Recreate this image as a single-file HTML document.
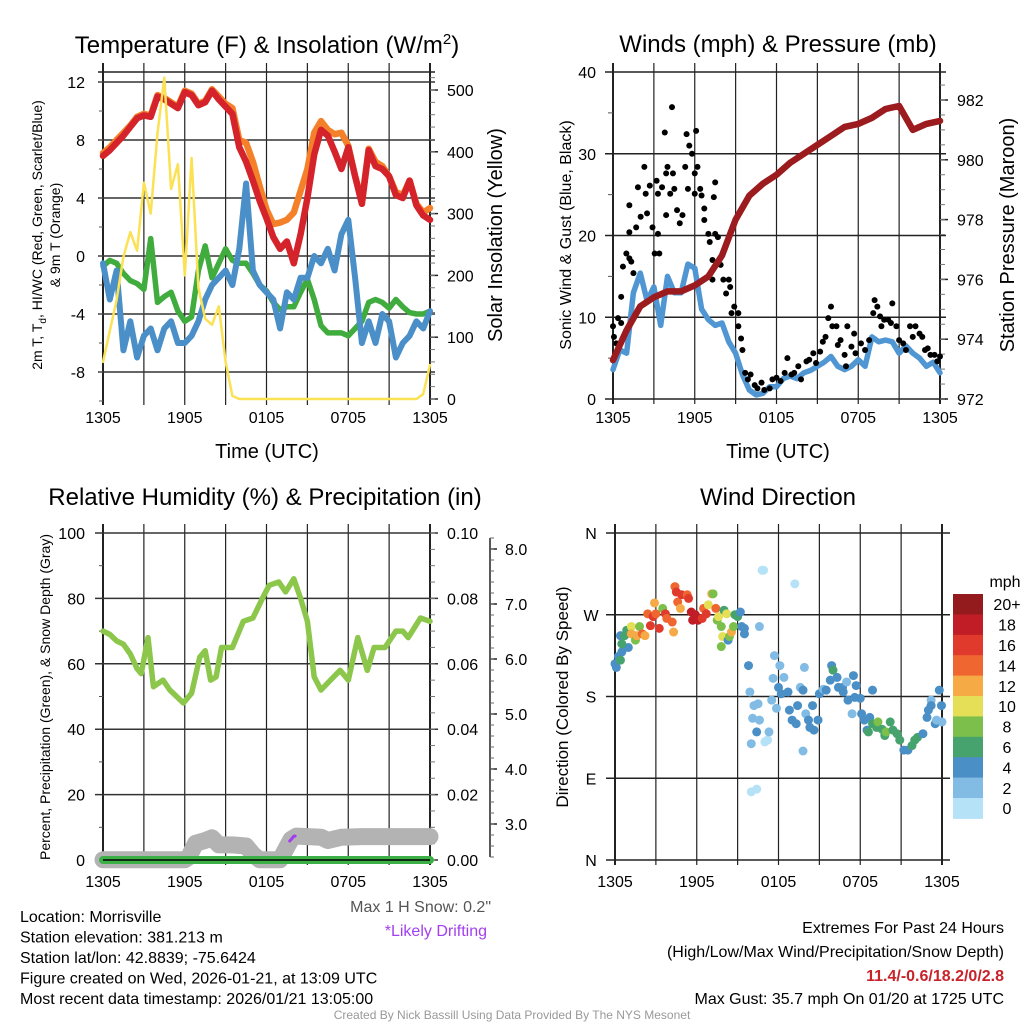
<!DOCTYPE html>
<html><head><meta charset="utf-8"><title>Morrisville Meteogram</title>
<style>
html,body{margin:0;padding:0;background:#fff;}
svg{display:block;font-family:"Liberation Sans",Arial,sans-serif;}
</style></head>
<body>
<svg id="chart" width="1024" height="1024" viewBox="0 0 1024 1024" xmlns="http://www.w3.org/2000/svg">
<rect x="0" y="0" width="1024" height="1024" fill="#fff"/>
</svg>
<script>
// ---------- DATA ----------
const halfHours=[0,0.5,1,1.5,2,2.5,3,3.5,4,4.5,5,5.5,6,6.5,7,7.5,8,8.5,9,9.5,10,10.5,11,11.5,12,12.5,13,13.5,14,14.5,15,15.5,16,16.5,17,17.5,18,18.5,19,19.5,20,20.5,21,21.5,22,22.5,23,23.5,24];
const tempRed=[6.9,7.3,7.8,8.3,8.9,9.5,9.7,9.6,11.0,10.8,10.5,10.2,11.3,11.1,10.4,10.6,11.4,10.8,10.3,9.8,7.5,6.5,5.2,3.8,2.6,1.3,0.5,1.0,-0.5,1.5,4.0,7.0,8.7,8.3,7.2,6.0,7.5,5.5,3.6,7.3,6.2,6.0,5.5,4.2,4.0,5.2,3.5,2.8,2.5];
const temp9m=[7.1,7.5,8.0,8.5,9.0,9.6,9.8,9.7,11.1,10.9,10.6,10.3,11.4,11.2,10.5,10.7,11.5,11.0,10.5,10.2,8.0,7.8,6.5,4.8,3.2,2.2,2.3,2.5,3.0,4.5,6.0,8.5,9.3,8.7,8.4,8.5,7.6,5.5,3.8,7.4,6.5,6.2,5.5,4.4,4.2,5.2,3.6,3.0,3.3];
const dewGreen=[-0.7,-0.3,-0.5,-1.2,-1.7,-1.9,-2.3,1.2,-3.2,-2.8,-2.5,-3.8,-4.5,-4.2,-1.0,0.7,-1.5,-0.5,0.5,-0.3,-0.5,-0.5,-1.2,-2.0,-2.4,-3.2,-3.7,-3.5,-3.5,-2.5,-1.6,-3.0,-4.8,-5.3,-5.3,-5.3,-5.5,-5.0,-4.5,-3.2,-3.0,-3.2,-3.6,-3.0,-3.5,-3.9,-4.0,-4.0,-3.8];
const windChill=[-0.5,-3,-1,-6.5,-4.5,-7,-5.5,-5,-6.5,-5,-4.5,-6,-6,-5.5,-4.5,-3,-2,-1.5,-1,-2,0.5,5,-1,-2,-2.5,-3,-5,-2.5,-3,-1.5,-1.5,0,-0.5,0.5,-1,1.5,2.5,-1.5,-6,-4.5,-6,-4,-4.5,-7,-6,-5.5,-4.5,-5,-3.8];
const solar=[60,110,160,230,270,240,350,300,430,520,340,380,200,390,180,130,120,150,60,5,0,0,0,0,0,0,0,0,0,0,0,0,0,0,0,0,0,0,0,0,0,0,0,0,0,0,0,8,55];
const tempTicks=[12,8,4,0,-4,-8];
const solarTicks=[0,100,200,300,400,500];
const timeLabels=["1305","1905","0105","0705","1305"];

const sonicWind=[3.6,6,5.6,13,15.4,12,13.7,9,15,13,13,16.5,16,11,9.7,9,9.3,7,5.6,3,1.1,0.5,0.7,1.5,1.5,2.5,2.8,2.5,3.2,3.5,4,4.5,5.2,4,3.6,4,4.8,4,7.6,7,7.2,7,5.6,6.5,5.6,5,4,4.5,3.2];
const pressureHours=[0,1,2,3,4,5,6,7,8,9,10,11,12,13,14,15,16,17,18,19,20,21,22,23,24];
const pressure=[973.3,974.3,975.1,975.4,975.6,975.6,975.8,976.1,976.8,978.0,978.8,979.2,979.5,979.9,980.2,980.5,980.8,981.1,981.2,981.4,981.7,981.8,981.0,981.2,981.3];
const gustHours=[0,0.07,0.24,0.37,0.6,0.6,0.73,0.98,1.2,1.34,1.5,1.2,1.2,1.7,1.83,2.03,2.3,2.4,2.5,2.7,2.9,3.06,3.2,3.3,3.4,3.3,3.6,3.8,3.9,3.9,4.0,4.2,4.33,4.4,4.5,4.7,4.9,5.1,5.3,5.4,5.5,5.6,5.8,6,6.0,6.1,6.2,6.4,6.5,6.7,6.7,7.0,7.1,7.3,7.4,7.5,7.5,7.3,7.7,7.9,8.1,8.3,8.5,8.6,8.7,8.9,9.2,9.2,9.4,9.5,9.7,9.9,10.1,10.4,10.6,10.9,11.1,11.5,11.7,12,12.3,12.6,12.8,13.1,13.3,13.6,13.8,14.2,14.4,14.7,14.9,15.2,15.4,15.6,15.8,16,16.1,16.4,16.5,16.7,17,17.1,17.2,17.5,17.7,17.8,18.2,18.5,18.8,19.1,19.2,19.4,19.6,19.7,19.9,20.2,20.4,20.5,20.8,21,21.3,21.5,21.8,22,22.2,22.5,22.7,22.9,23.1,23.3,23.6,23.8,24];
const gustMph=[8.9,7.6,6.8,9.9,9.3,12.5,16.2,17.8,17.2,16.8,15.4,20.4,23.7,21,25.9,22.3,28.4,25.1,22.7,26.1,21,17.8,26.7,20.2,17.8,25.1,25.9,32.6,27.6,22.5,28.4,25.1,35.7,27.6,25.7,23.1,21.5,22.5,28.4,32.4,25.7,31,30,27.6,25.1,32.8,28.4,25.7,24.9,23.3,21.9,20.2,19.2,17,24.7,26.5,20.2,14.6,19.8,16.4,14.6,12.9,14.6,13.7,10.5,11.3,10.5,8.9,7.4,6,3.2,2.4,3,1.7,1.3,2,1.1,1.3,2.4,2.6,2.2,3.2,5,3,3.2,4,2.4,4.6,4.8,5.6,4.4,5.8,7,7.6,9.9,11.3,8.9,8.9,6.6,7.2,5.4,4,8.9,6.4,8,5.6,6.8,6,7.2,10.5,12.1,11.3,10.1,8.9,9.7,9.7,9.3,11.7,8.9,7.2,6.8,6,8.9,7.6,8.9,8,7.6,6,6.2,5.4,5.4,4.6,5.2];
const windTicks=[0,10,20,30,40];
const pressureTicks=[972,974,976,978,980,982];

const rhHours=[0,0.5,1,1.5,2,2.5,2.8,3.3,3.7,4.4,4.9,5.9,6.5,7.1,7.5,7.9,8.3,8.7,9.5,10.3,11,11.7,12.2,12.9,13.4,14,14.5,15,15.5,16,16.7,17.4,18,18.7,19.4,19.9,20.7,21.5,22,22.4,23.3,24];
const rh=[70,69,67,66,63,58.5,57,68,53,55,52,48,51,62,64,55,56,65,65,73,74,80,84,85,82,86,80,73,56,52,55,58,55,68,58,65,65,70,70,68,74,73];
const snowHours=[0,1,2,3,4,5,6,6.3,6.8,7.5,8,8.5,9.5,10.5,11,11.5,12,13,13.8,14.2,15,16,16.5,17.5,19,20,21,22,23,24];
const snowDepth=[2.35,2.35,2.35,2.35,2.35,2.35,2.35,2.4,2.65,2.7,2.75,2.62,2.62,2.6,2.45,2.35,2.35,2.35,2.72,2.78,2.77,2.76,2.7,2.76,2.77,2.77,2.77,2.77,2.77,2.77];
const precipHours=[0,24];
const precip=[0,0];
const driftHours=[13.7,13.85,14.0,14.1];
const driftDepth=[2.69,2.73,2.78,2.78];
const rhTicks=[0,20,40,60,80,100];
const precipTicks=["0.00","0.02","0.04","0.06","0.08","0.10"];
const snowTicks=["3.0","4.0","5.0","6.0","7.0","8.0"];

const dirHours=[0,0.1,0.25,0.5,0.7,0.98,0.4,0.5,0.4,0.7,0.86,1.2,1.2,1.5,1.6,1.8,2,2.2,2.4,2.6,2.9,2.8,3,3.25,3.5,3.7,3.8,4.2,4.3,4.4,4.5,4.6,4.8,4.9,5.3,5.4,5.6,5.7,5.9,6.1,6.4,6.5,6.7,6.85,7.1,7.2,7.4,7.5,7.6,7.8,7.9,7.8,8,8.2,8.3,8.4,8.55,8.7,8.8,9,9.2,9.3,9.5,9.5,9.8,9.9,10,10.1,10.2,10.4,10.5,10.6,10.6,10.8,10.9,10,10.4,11,11.2,11.3,11.5,11.6,11.7,11.85,12,12.1,12.2,12.4,12.7,12.8,13,13.2,13.3,13.4,13.6,13.8,13.9,14,14.2,13.8,14.3,14.5,14.6,14.9,15,15.3,15.5,15.8,15.9,16,16.3,16.4,16.7,16.75,17,17.1,17.4,17.5,17.6,17.7,18,18.1,18.3,18.5,18.6,18.9,18.7,18.9,19.2,19.3,19.6,19.8,19.9,20.2,20.4,20.7,20.9,21.2,21.5,21.8,22,22.2,22.6,22.9,23,23.2,23.2,23.5,23.6,23.8,23.96,24];
const dirDeg=[216,212,224,229,234,234,247,238,220,247,253,257,249,242,247,257,249,247,271,258,283,268,271,255,277,271,266,262,251,301,295,284,277,292,292,288,273,264,270,264,266,277,271,281,293,293,277,264,268,257,246,235,275,271,242,246,251,257,270,268,273,257,255,249,214,185,128,156,170,141,172,257,154,319,319,75,78,130,132,141,176,200,225,167,190,214,183,201,185,165,154,304,150,170,190,187,212,161,154,120,146,170,143,154,183,188,187,198,214,209,201,190,190,185,196,176,161,203,179,192,178,161,154,143,141,187,157,150,146,152,144,137,141,152,143,139,132,121,121,126,132,135,139,157,165,176,170,150,154,187,170,152];
const dirSpeed=[4.5,4.5,4.5,4.5,4.5,4.5,4.5,6.5,6.5,6.5,6.5,10.5,12.5,8.5,12.5,8.5,14.5,12.5,14.5,16.5,12.5,16.5,14.5,16.5,8.5,16.5,14.5,14.5,12.5,14.5,16.5,14.5,12.5,16.5,14.5,16.5,18.5,18.5,18.5,18.5,16.5,14.5,16.5,10.5,12.5,8.5,14.5,8.5,10.5,8.5,10.5,8.5,6.5,10.5,4.5,8.5,12.5,8.5,6.5,6.5,4.5,4.5,4.5,4.5,4.5,2.5,2.5,2.5,2.5,4.5,2.5,2.5,2.5,0.5,0.5,0.5,0.5,0.5,0.5,2.5,2.5,2.5,2.5,2.5,4.5,2.5,4.5,2.5,4.5,4.5,4.5,0.5,4.5,4.5,2.5,4.5,2.5,2.5,4.5,2.5,4.5,4.5,4.5,4.5,4.5,2.5,4.5,4.5,4.5,6.5,4.5,4.5,4.5,4.5,2.5,4.5,2.5,4.5,4.5,4.5,4.5,4.5,4.5,4.5,6.5,4.5,4.5,6.5,6.5,8.5,6.5,6.5,8.5,6.5,6.5,6.5,6.5,4.5,4.5,6.5,6.5,6.5,4.5,4.5,4.5,2.5,4.5,4.5,2.5,4.5,4.5,2.5];
const dirLabels=["N","W","S","E","N"];
const dirTickDeg=[360,270,180,90,0];
const speedBinLabels=["0","2","4","6","8","10","12","14","16","18","20+"];
const speedColors=["#b5e2f7","#82bbe3","#4a8fc6","#47a36e","#7cc04b","#e5df58","#f6aa45","#ef6630","#df3a2c","#c01d26","#931a1d"];

// ---------- HELPERS ----------
const NS="http://www.w3.org/2000/svg";
const svg=document.getElementById("chart");
function mk(tag,attrs,parent){const e=document.createElementNS(NS,tag);for(const k in attrs)e.setAttribute(k,attrs[k]);(parent||svg).appendChild(e);return e;}
function txt(x,y,s,size,anchor,fill,rot){
  const a={x:x,y:y,"font-size":size,"text-anchor":anchor||"start",fill:fill||"#000"};
  if(rot)a.transform="rotate("+rot+" "+x+" "+y+")";
  const e=mk("text",a);e.textContent=s;return e;}
function line(x1,y1,x2,y2,w,c){return mk("line",{x1:x1,y1:y1,x2:x2,y2:y2,stroke:c||"#000","stroke-width":w||1});}
function poly(xs,ys,fx,fy,w,c){
  const p=xs.map((h,i)=>fx(h).toFixed(1)+","+fy(ys[i]).toFixed(1)).join(" ");
  return mk("polyline",{points:p,fill:"none",stroke:c,"stroke-width":w,"stroke-linejoin":"round","stroke-linecap":"round"});}

function timeGrid(x0,x1,top,bot,labY){
  const fx=h=>x0+h*(x1-x0)/24;
  for(let h=0;h<=24;h+=3){
    const g=line(fx(h),top-9,fx(h),bot+5,(h===0||h===24)?2:1.2,"#222");
    
    
  }
  timeLabels.forEach((s,i)=>{const t=txt(fx(i*6),labY,s,16,"middle");
    
    });
  return fx;
}

// ---------- PANEL 1: Temperature ----------
(function(){
  const top=72,bot=400;
  const xT=timeGrid(103,430,top,bot,423);
  const yT=v=>82+(12-v)*14.5;
  const yS=w=>399-w*0.618;
  line(98,top,435,top,1.5,"#222");
  tempTicks.forEach(v=>{const l=line(98,yT(v),435,yT(v),1.5,"#333");
    
    
    const t=txt(85,yT(v)+6,String(v),16,"end");
    
    });
  for(let v=-10;v<=12;v+=2){line(99,yT(v),103,yT(v),1,"#555");}
  solarTicks.forEach(w=>{line(430,yS(w),438,yS(w),1.5,"#222");
    const t=txt(447,yS(w)+6,String(w),16,"start");
    
    });
  for(let w=0;w<=520;w+=20){line(430,yS(w),435,yS(w),1,"#777");}
  let s;
  s=poly(halfHours,temp9m,xT,yT,6.5,"#f5802a");
  s=poly(halfHours,tempRed,xT,yT,6.5,"#d4232a");
  s=poly(halfHours,dewGreen,xT,yT,5.5,"#40ac3e");
  s=poly(halfHours,windChill,xT,yT,6,"#4a8fc8");
  s=poly(halfHours,solar,xT,yS,2.5,"#fbe154");
  let t=mk("text",{x:267,y:53,"font-size":24,"text-anchor":"middle"});
  t.innerHTML='Temperature (F) &amp; Insolation (W/m<tspan dy="-9" font-size="15">2</tspan><tspan dy="9">)</tspan>';
  
  t=txt(267,458,"Time (UTC)",20,"middle");
  t=mk("text",{x:42,y:235,"font-size":14,"text-anchor":"middle",transform:"rotate(-90 42 235)"});
  t.innerHTML='2m T, T<tspan dy="4" font-size="10">d</tspan><tspan dy="-4">, HI/WC (Red, Green, Scarlet/Blue)</tspan>';
  
  t=txt(60,235,"& 9m T (Orange)",14,"middle","#000",-90);
  t=txt(502,235,"Solar Insolation (Yellow)",20,"middle","#000",-90);
})();

// ---------- PANEL 2: Winds & Pressure ----------
(function(){
  const top=72,bot=399;
  const xW=timeGrid(613,940,top,bot,423);
  const yW=m=>399-m*8.175;
  const yP=p=>399-(p-972)*29.9;
  windTicks.forEach(m=>{const l=line(605,yW(m),946,yW(m),1.5,"#222");
    
    const t=txt(596,yW(m)+6,String(m),16,"end");
    });
  for(let m=5;m<40;m+=10){line(608,yW(m),613,yW(m),1,"#555");}
  pressureTicks.forEach(p=>{line(940,yP(p),948,yP(p),1.5,"#222");
    const t=txt(957,yP(p)+6,String(p),16,"start");
    });
  for(let p=972;p<=982.9;p+=0.5){line(940,yP(p),945,yP(p),1,"#777");}
  let s=poly(halfHours,sonicWind,xW,yW,5.5,"#4f96d3");
  gustHours.forEach((h,i)=>{const c=mk("circle",{cx:xW(h),cy:yW(gustMph[i]),r:3,fill:"#000"});
    });
  s=poly(pressureHours,pressure,xW,yP,6.5,"#9b1b1e");
  let t=txt(778,52,"Winds (mph) & Pressure (mb)",24,"middle");
  t=txt(778,458,"Time (UTC)",20,"middle");
  t=txt(571,235,"Sonic Wind & Gust (Blue, Black)",16,"middle","#000",-90);
  t=txt(1014,235,"Station Pressure (Maroon)",20,"middle","#000",-90);
})();

// ---------- PANEL 3: RH & Precip ----------
(function(){
  const top=533,bot=860;
  const xR=timeGrid(103,430,top,bot,887);
  const yR=v=>860-v*3.27;
  const ySn=d=>824-(d-3)*55;
  const yPr=p=>860-p*3270;
  rhTicks.forEach(v=>{const l=line(95,yR(v),438,yR(v),1.5,"#333");
    
    const t=txt(85,yR(v)+6,String(v),16,"end");
    });
  for(let v=10;v<100;v+=20){line(99,yR(v),103,yR(v),1,"#555");}
  precipTicks.forEach((s,i)=>{const t=txt(447,yR(i*20)+6,s,16,"start");
    });
  for(let v=0;v<=100;v+=5){line(430,yR(v),435,yR(v),1,"#777");}
  line(490,538,490,857,1.5,"#222");
  snowTicks.forEach(s=>{const y=ySn(parseFloat(s));line(490,y,497,y,1.5,"#222");
    const t=txt(505,y+6,s,16,"start");
    });
  for(let d=2.4;d<=8.3;d+=0.2){line(490,ySn(d),494,ySn(d),1,"#666");}
  let s=poly(snowHours,snowDepth,xR,ySn,17,"#b3b3b3");
  s=poly(precipHours,precip,xR,yPr,8,"#3daf47");
  line(103,860,430,860,1.5,"#000");
  s=poly(driftHours,driftDepth,xR,ySn,3,"#a23cf0");
  s=poly(rhHours,rh,xR,yR,5.5,"#8cc74c");
  let t=txt(265,505,"Relative Humidity (%) & Precipitation (in)",24,"middle");
  t=txt(50,697,"Percent, Precipitation (Green), & Snow Depth (Gray)",14,"middle","#000",-90);
  t=txt(491,912,'Max 1 H Snow: 0.2"',16,"end","#555");
  t=txt(487,936,"*Likely Drifting",16,"end","#a33ff0");
})();

// ---------- PANEL 4: Wind Direction ----------
(function(){
  const top=533,bot=860;
  const xD=timeGrid(615,942,top,bot,887);
  const yD=d=>860-d*327/360;
  dirTickDeg.forEach((d,i)=>{const l=line(606,yD(d),950,yD(d),1.5,"#222");
    
    const t=txt(591,yD(d)+6,dirLabels[i],16,"middle");
    });
  dirHours.forEach((h,i)=>{
    const b=Math.min(10,Math.floor(dirSpeed[i]/2));
    const c=mk("circle",{cx:xD(h),cy:yD(dirDeg[i]),r:4.5,fill:speedColors[b]});
    });
  const cbTop=594,bh=20.4;
  speedBinLabels.forEach((s,i)=>{const k=10-i;
    const r=mk("rect",{x:953,y:cbTop+i*bh,width:30,height:bh+0.5,fill:speedColors[k]});
    
    const t=txt(1007,cbTop+i*bh+bh/2+6,speedBinLabels[k],16,"middle");
    });
  let t=txt(1005,587,"mph",16,"middle");
  t=txt(778,505,"Wind Direction",24,"middle");
  t=txt(568,697,"Direction (Colored By Speed)",17,"middle","#000",-90);
})();

// ---------- FOOTER ----------
(function(){
  const info=["Location: Morrisville","Station elevation: 381.213 m","Station lat/lon: 42.8839; -75.6424","Figure created on Wed, 2026-01-21, at 13:09 UTC","Most recent data timestamp: 2026/01/21 13:05:00"];
  info.forEach((s,i)=>{const t=txt(20,922+i*20.5,s,16,"start");
    });
  let t=txt(1004,933,"Extremes For Past 24 Hours",16,"end");
  t=txt(1004,957,"(High/Low/Max Wind/Precipitation/Snow Depth)",16,"end");
  t=txt(1004,981,"11.4/-0.6/18.2/0/2.8",16,"end","#c8232b");t.setAttribute("font-weight","bold");
  t=txt(1004,1004,"Max Gust: 35.7 mph On 01/20 at 1725 UTC",16,"end");
  t=txt(512,1019,"Created By Nick Bassill Using Data Provided By The NYS Mesonet",12,"middle","#999");
})();
</script>
</body></html>
